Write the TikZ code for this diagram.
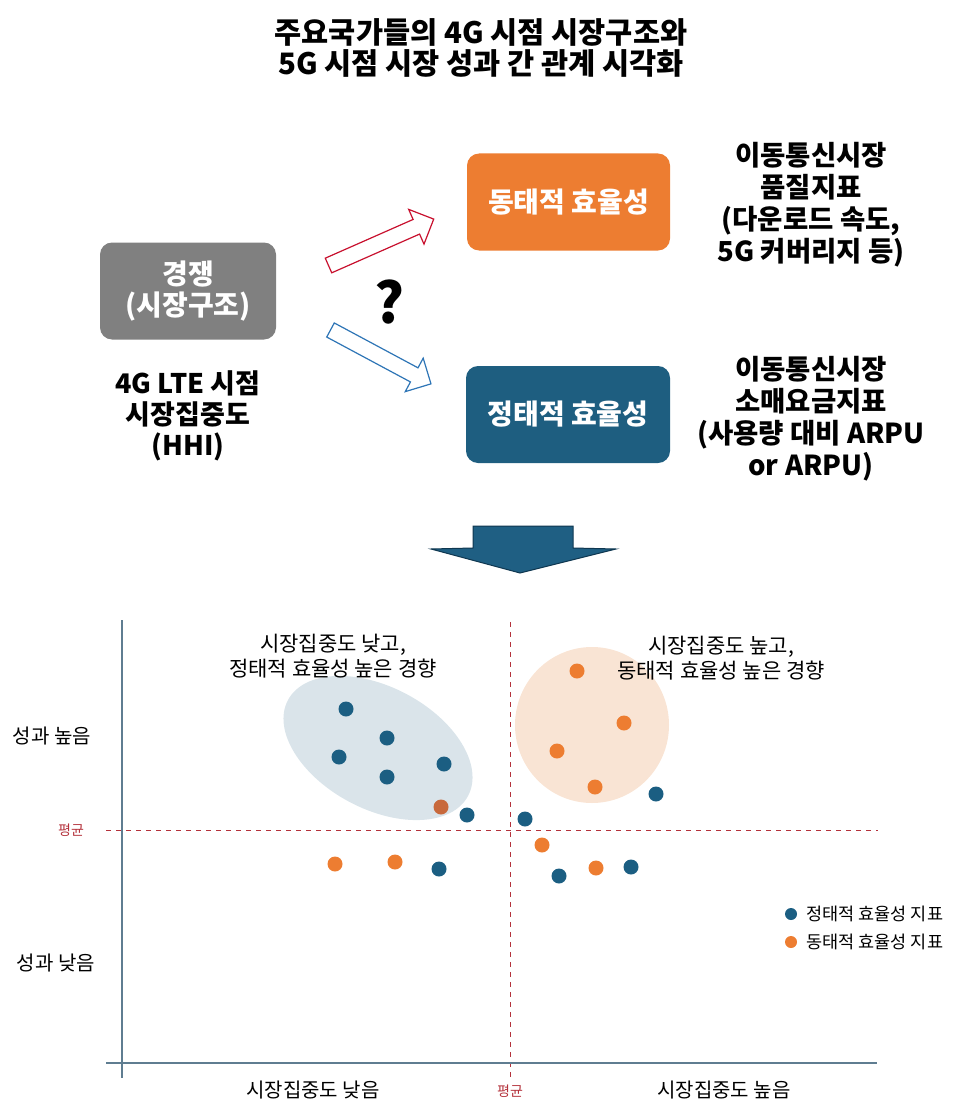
\documentclass[tikz,border=0pt]{standalone}
\usepackage{fontspec}
\setmainfont{Noto Sans CJK KR}
\usetikzlibrary{shapes.geometric}
\definecolor{boxgray}{RGB}{128,128,128}
\definecolor{boxorange}{RGB}{237,125,49}
\definecolor{boxblue}{RGB}{30,94,128}
\definecolor{dotblue}{RGB}{27,94,130}
\definecolor{dotbrown}{RGB}{200,105,60}
\definecolor{arrred}{RGB}{200,16,46}
\definecolor{arrblue}{RGB}{46,117,182}
\definecolor{avgred}{RGB}{180,50,60}
\definecolor{axisgray}{RGB}{95,125,145}
\definecolor{ellblue}{RGB}{218,228,234}
\definecolor{ellorange}{RGB}{249,228,212}
\definecolor{bigarrow}{RGB}{31,95,131}
\definecolor{bigarrowedge}{RGB}{15,55,80}
\tikzset{
  fbox/.style={rounded corners=12pt, minimum width=#1, minimum height=97pt, text=white, font=\bfseries\fontsize{28}{31}\selectfont, align=center, inner sep=0pt},
  desc/.style={align=center, font=\bfseries\fontsize{27.5}{32}\selectfont},
  note/.style={align=center, font=\fontsize{21}{25}\selectfont},
  axlab/.style={font=\fontsize{20}{23}\selectfont},
  avglab/.style={text=avgred, font=\fontsize{14}{16}\selectfont},
  leglab/.style={anchor=west, font=\fontsize{17.5}{20}\selectfont},
  bdot/.style={circle, fill=dotblue, minimum size=15pt, inner sep=0pt},
  odot/.style={circle, fill=boxorange, minimum size=15pt, inner sep=0pt},
  hollowarrow/.style={line width=1.2pt, fill=white, line join=miter},
  avgline/.style={avgred, line width=0.8pt, dash pattern=on 5pt off 5pt},
  axisline/.style={axisgray, line width=1.4pt}
}
\begin{document}
\begin{tikzpicture}[x=1pt,y=-1pt]
\path[use as bounding box] (0,0) rectangle (959,1102);
% title
\node[align=center, font=\bfseries\fontsize{29.5}{31}\selectfont] (title) at (481,48) {주요국가들의 4G 시점 시장구조와\\5G 시점 시장 성과 간 관계 시각화};
% boxes
\node[fbox=176pt, fill=boxgray] (compete) at (188,291) {경쟁\\(시장구조)};
\node[fbox=203pt, fill=boxorange] (dyn) at (568.5,202) {동태적 효율성};
\node[fbox=204pt, fill=boxblue] (stat) at (568,414.5) {정태적 효율성};
\node[desc, font=\bfseries\fontsize{27}{31}\selectfont] (hhi) at (188,416) {4G LTE 시점\\시장집중도\\(HHI)};
\node[desc] (dyntext) at (811,205) {이동통신시장\\품질지표\\(다운로드 속도,\\5G 커버리지 등)};
\node[desc] (stattext) at (811,419) {이동통신시장\\소매요금지표\\(사용량 대비 ARPU\\or ARPU)};
\node[font=\bfseries\fontsize{56}{60}\selectfont] (q) at (390,302) {?};
% hollow arrows
\draw[hollowarrow, draw=arrred, shift={(328.5,265.5)}, rotate=23.8]
  (0,-8) -- (96,-8) -- (96,-19) -- (115,0) -- (96,19) -- (96,8) -- (0,8) -- cycle;
\draw[hollowarrow, draw=arrblue, shift={(330.5,330)}, rotate=-28.2]
  (0,-8) -- (95,-8) -- (95,-19) -- (114,0) -- (95,19) -- (95,8) -- (0,8) -- cycle;
% big down arrow
\draw[fill=bigarrow, draw=bigarrowedge, line width=1pt, line join=miter]
  (473,526) -- (573,526) -- (573,548) -- (616,549) -- (520,573) -- (431,549) -- (473,548) -- cycle;
% ellipses
\fill[ellblue] (378,748) ellipse[x radius=102, y radius=61, rotate=-28];
\fill[ellorange] (592,725) ellipse[x radius=77, y radius=78];
% average lines
\coordinate (vtop) at (510,622);
\coordinate (vbot) at (510,1078);
\coordinate (hleft) at (106,830);
\coordinate (hright) at (878,830);
\draw[avgline] (vtop) -- (vbot);
\draw[avgline] (hleft) -- (hright);
% axes
\coordinate (ytop) at (122,620);
\coordinate (ybot) at (122,1078);
\coordinate (xleft) at (106,1063);
\coordinate (xright) at (877,1063);
\draw[axisline] (ytop) -- (ybot);
\draw[axisline] (xleft) -- (xright);
% labels
\node[axlab] (hi) at (52,736) {성과 높음};
\node[axlab] (lo) at (56,963) {성과 낮음};
\node[avglab] (avgy) at (71,830) {평균};
\node[axlab] (xlo) at (313,1090) {시장집중도 낮음};
\node[avglab] (avgx) at (510,1091) {평균};
\node[axlab] (xhi) at (724,1090) {시장집중도 높음};
\node[note] (nleft) at (333,656) {시장집중도 낮고,\\정태적 효율성 높은 경향};
\node[note] (nright) at (721,658) {시장집중도 높고,\\동태적 효율성 높은 경향};
% dots blue
\node[bdot] (b1) at (346,709) {};
\node[bdot] (b2) at (387,738) {};
\node[bdot] (b3) at (339,757) {};
\node[bdot] (b4) at (387,777) {};
\node[bdot] (b5) at (444,764) {};
\node[bdot] (b6) at (467,815) {};
\node[bdot] (b7) at (439,869) {};
\node[bdot] (b8) at (525,819) {};
\node[bdot] (b9) at (656,794) {};
\node[bdot] (b10) at (559,876) {};
\node[bdot] (b11) at (631,867) {};
% dots orange
\node[odot, fill=dotbrown] (o1) at (441,807) {};
\node[odot] (o2) at (335,864) {};
\node[odot] (o3) at (395,862) {};
\node[odot] (o4) at (577,671) {};
\node[odot] (o5) at (624,723) {};
\node[odot] (o6) at (557,751) {};
\node[odot] (o7) at (595,787) {};
\node[odot] (o8) at (542,845) {};
\node[odot] (o9) at (596,868) {};
% legend
\node[bdot, minimum size=12pt] (lb) at (791,914) {};
\node[odot, minimum size=12pt] (lo2) at (791,942) {};
\node[leglab] (lbt) at (803,914) {정태적 효율성 지표};
\node[leglab] (lot) at (803,942) {동태적 효율성 지표};
\end{tikzpicture}
\end{document}
